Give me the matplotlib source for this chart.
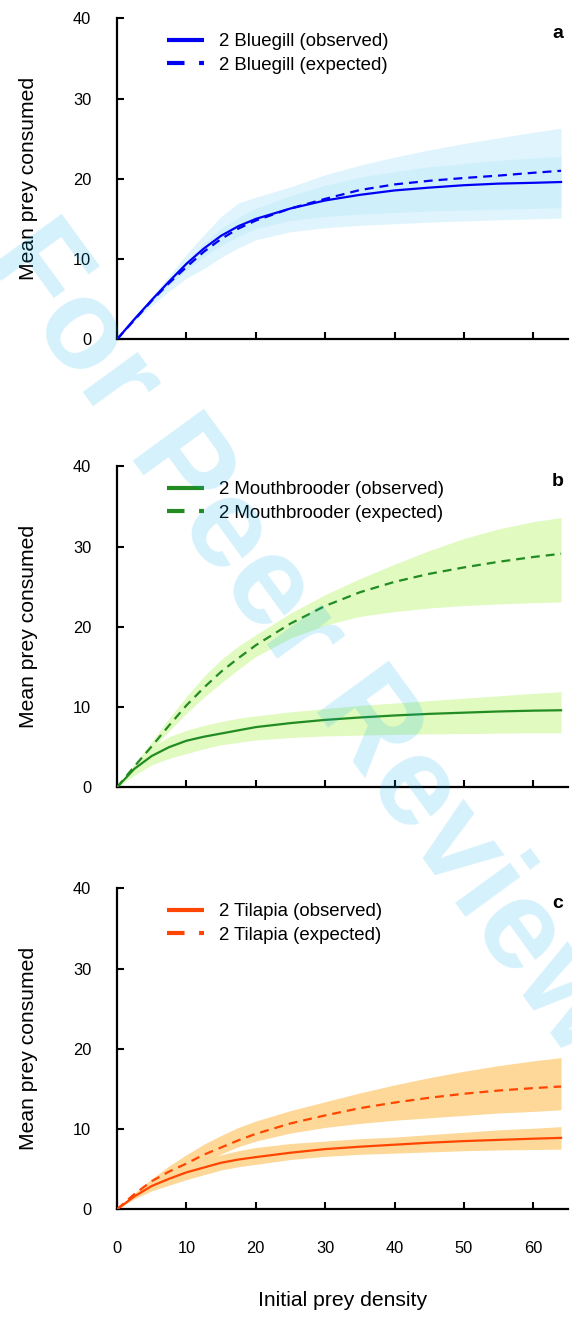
import matplotlib
matplotlib.use('Agg')
import matplotlib.pyplot as plt
from matplotlib.lines import Line2D

plt.rcParams['font.family'] = ['Liberation Sans', 'DejaVu Sans']

# ---------------- data ----------------
prey_density = [0, 2.5, 5, 7.5, 10, 12.5, 15, 17.5, 20, 25, 30, 35, 40, 45, 50, 55, 60, 64]

# Panel a: Bluegill
bluegill_obs = [0, 2.5, 4.9, 7.2, 9.4, 11.3, 12.9, 14.1, 15.0, 16.3, 17.3, 18.0, 18.55, 18.9, 19.2, 19.4, 19.5, 19.6]
bluegill_obs_lo = [0, 2.2, 4.2, 6.0, 7.6, 8.8, 10.2, 11.4, 12.4, 13.4, 13.9, 14.2, 14.4, 14.6, 14.75, 14.9, 15.0, 15.1]
bluegill_obs_hi = [0, 2.55, 5.1, 7.5, 9.8, 11.9, 13.8, 15.2, 16.3, 17.9, 19.2, 20.2, 20.9, 21.5, 21.9, 22.3, 22.6, 22.8]
bluegill_exp = [0, 2.4, 4.8, 7.0, 9.0, 10.9, 12.5, 13.8, 14.8, 16.3, 17.5, 18.6, 19.3, 19.75, 20.1, 20.4, 20.75, 21.0]
bluegill_exp_lo = [0, 2.3, 4.6, 6.7, 8.6, 10.3, 11.7, 12.8, 13.8, 14.8, 15.3, 15.6, 15.8, 16.0, 16.1, 16.2, 16.3, 16.4]
bluegill_exp_hi = [0, 2.6, 5.3, 7.9, 10.6, 13.0, 15.3, 17.0, 17.7, 19.0, 20.5, 21.7, 22.7, 23.6, 24.4, 25.1, 25.8, 26.3]

# Panel b: Mouthbrooder
mouth_obs = [0, 2.3, 3.9, 5.0, 5.8, 6.3, 6.7, 7.1, 7.5, 8.0, 8.4, 8.7, 8.95, 9.15, 9.3, 9.45, 9.55, 9.6]
mouth_obs_lo = [0, 1.5, 2.8, 3.6, 4.2, 4.8, 5.3, 5.6, 5.9, 6.2, 6.4, 6.5, 6.6, 6.65, 6.7, 6.75, 6.8, 6.8]
mouth_obs_hi = [0, 2.8, 5.0, 6.3, 7.1, 7.7, 8.2, 8.6, 8.9, 9.4, 9.8, 10.2, 10.5, 10.8, 11.1, 11.4, 11.7, 11.9]
mouth_exp = [0, 2.6, 5.1, 7.7, 10.2, 12.4, 14.4, 16.1, 17.7, 20.4, 22.6, 24.3, 25.6, 26.6, 27.4, 28.1, 28.7, 29.1]
mouth_exp_lo = [0, 2.3, 4.7, 7.0, 9.2, 11.2, 13.0, 14.7, 16.3, 18.6, 20.2, 21.3, 21.9, 22.35, 22.65, 22.85, 23.0, 23.1]
mouth_exp_hi = [0, 2.9, 5.7, 8.6, 11.3, 13.8, 15.9, 17.6, 19.0, 21.7, 24.0, 26.0, 27.8, 29.5, 31.0, 32.2, 33.1, 33.6]

# Panel c: Tilapia
tilapia_obs = [0, 1.6, 2.9, 3.8, 4.6, 5.2, 5.8, 6.2, 6.5, 7.05, 7.5, 7.8, 8.05, 8.3, 8.5, 8.65, 8.8, 8.9]
tilapia_obs_lo = [0, 1.3, 2.3, 3.0, 3.7, 4.3, 4.9, 5.3, 5.6, 6.2, 6.6, 6.85, 7.0, 7.15, 7.3, 7.4, 7.45, 7.5]
tilapia_obs_hi = [0, 1.8, 3.4, 4.6, 5.5, 6.2, 6.8, 7.3, 7.7, 8.2, 8.5, 8.8, 9.0, 9.3, 9.6, 9.9, 10.1, 10.3]
tilapia_exp = [0, 1.9, 3.5, 4.7, 5.7, 6.8, 7.7, 8.6, 9.4, 10.7, 11.7, 12.6, 13.3, 13.9, 14.4, 14.8, 15.1, 15.3]
tilapia_exp_lo = [0, 1.5, 2.8, 3.7, 4.8, 5.9, 6.9, 7.8, 8.5, 9.5, 10.2, 10.7, 11.1, 11.4, 11.7, 12.0, 12.2, 12.4]
tilapia_exp_hi = [0, 2.0, 3.8, 5.4, 6.8, 8.1, 9.2, 10.2, 11.0, 12.3, 13.4, 14.5, 15.5, 16.4, 17.2, 17.9, 18.5, 18.9]

x_ticks = [0, 10, 20, 30, 40, 50, 60]
y_ticks = [0, 10, 20, 30, 40]

panels = [
    dict(letter='a', name='2 Bluegill', color='#0000f5', band='#c1ebfb', alpha=0.5,
         obs=bluegill_obs, obs_lo=bluegill_obs_lo, obs_hi=bluegill_obs_hi,
         exp=bluegill_exp, exp_lo=bluegill_exp_lo, exp_hi=bluegill_exp_hi),
    dict(letter='b', name='2 Mouthbrooder', color='#228b22', band='#e0fac0', alpha=1.0,
         obs=mouth_obs, obs_lo=mouth_obs_lo, obs_hi=mouth_obs_hi,
         exp=mouth_exp, exp_lo=mouth_exp_lo, exp_hi=mouth_exp_hi),
    dict(letter='c', name='2 Tilapia', color='#ff4500', band='#fdd898', alpha=1.0,
         obs=tilapia_obs, obs_lo=tilapia_obs_lo, obs_hi=tilapia_obs_hi,
         exp=tilapia_exp, exp_lo=tilapia_exp_lo, exp_hi=tilapia_exp_hi),
]

W, H = 572, 1325
fig = plt.figure(figsize=(W / 100, H / 100), dpi=100)

ax_left = 117 / W
ax_width = 451 / W
ax_height = 321 / H
bottoms_px = [339.3, 787.3, 1209.3]

line_dash = (4.0, 2.7)
for i, p in enumerate(panels):
    ax = fig.add_axes([ax_left, 1 - bottoms_px[i] / H, ax_width, ax_height])
    ax.set_facecolor('none')
    ax.fill_between(prey_density, p['exp_lo'], p['exp_hi'], color=p['band'],
                    alpha=p['alpha'], linewidth=0, zorder=1)
    ax.fill_between(prey_density, p['obs_lo'], p['obs_hi'], color=p['band'],
                    alpha=p['alpha'], linewidth=0, zorder=1)
    ax.plot(prey_density, p['obs'], color=p['color'], lw=1.6, zorder=3)
    ax.plot(prey_density, p['exp'], color=p['color'], lw=1.6, dashes=line_dash, zorder=3)

    ax.set_xlim(0, 65)
    ax.set_ylim(0, 40)
    ax.set_xticks(x_ticks)
    ax.set_yticks(y_ticks)
    for s in ['top', 'right']:
        ax.spines[s].set_visible(False)
    for s in ['left', 'bottom']:
        ax.spines[s].set_linewidth(1.6)
    ax.tick_params(axis='both', direction='in', length=5, width=1.5, labelsize=11.8)
    ax.tick_params(axis='y', pad=18.5)
    ax.tick_params(axis='x', pad=23)
    if i < 2:
        ax.tick_params(axis='x', labelbottom=False)
    else:
        ax.set_xlabel('Initial prey density', fontsize=15.2, va='center')
        ax.xaxis.set_label_coords(0.5, -0.283)

    ax.set_ylabel('Mean prey consumed', fontsize=15.2, va='center')
    ax.yaxis.set_label_coords(-0.196, 0.5)

    ax.text(0.978, 0.954, p['letter'], transform=ax.transAxes, fontsize=14,
            fontweight='bold', ha='center', va='center')

    handles = [
        Line2D([], [], color=p['color'], lw=3, solid_capstyle='butt'),
        Line2D([], [], color=p['color'], lw=3, dashes=(4.2, 3.5), dash_capstyle='butt'),
    ]
    ax.legend(handles, [p['name'] + ' (observed)', p['name'] + ' (expected)'],
              loc='upper left', bbox_to_anchor=(0.111, 0.953), frameon=False,
              fontsize=13.4, borderpad=0, borderaxespad=0, handlelength=2.0,
              handletextpad=0.8, labelspacing=0.35)

fig.text(278 / W, 1 - 660 / H, 'For Peer Review', rotation=-53.9,
         rotation_mode='anchor', ha='center', va='baseline', fontsize=92,
         fontweight='bold', color=(0, 174 / 255, 239 / 255), alpha=0.17, zorder=10)

fig.savefig('out.png', dpi=100)
